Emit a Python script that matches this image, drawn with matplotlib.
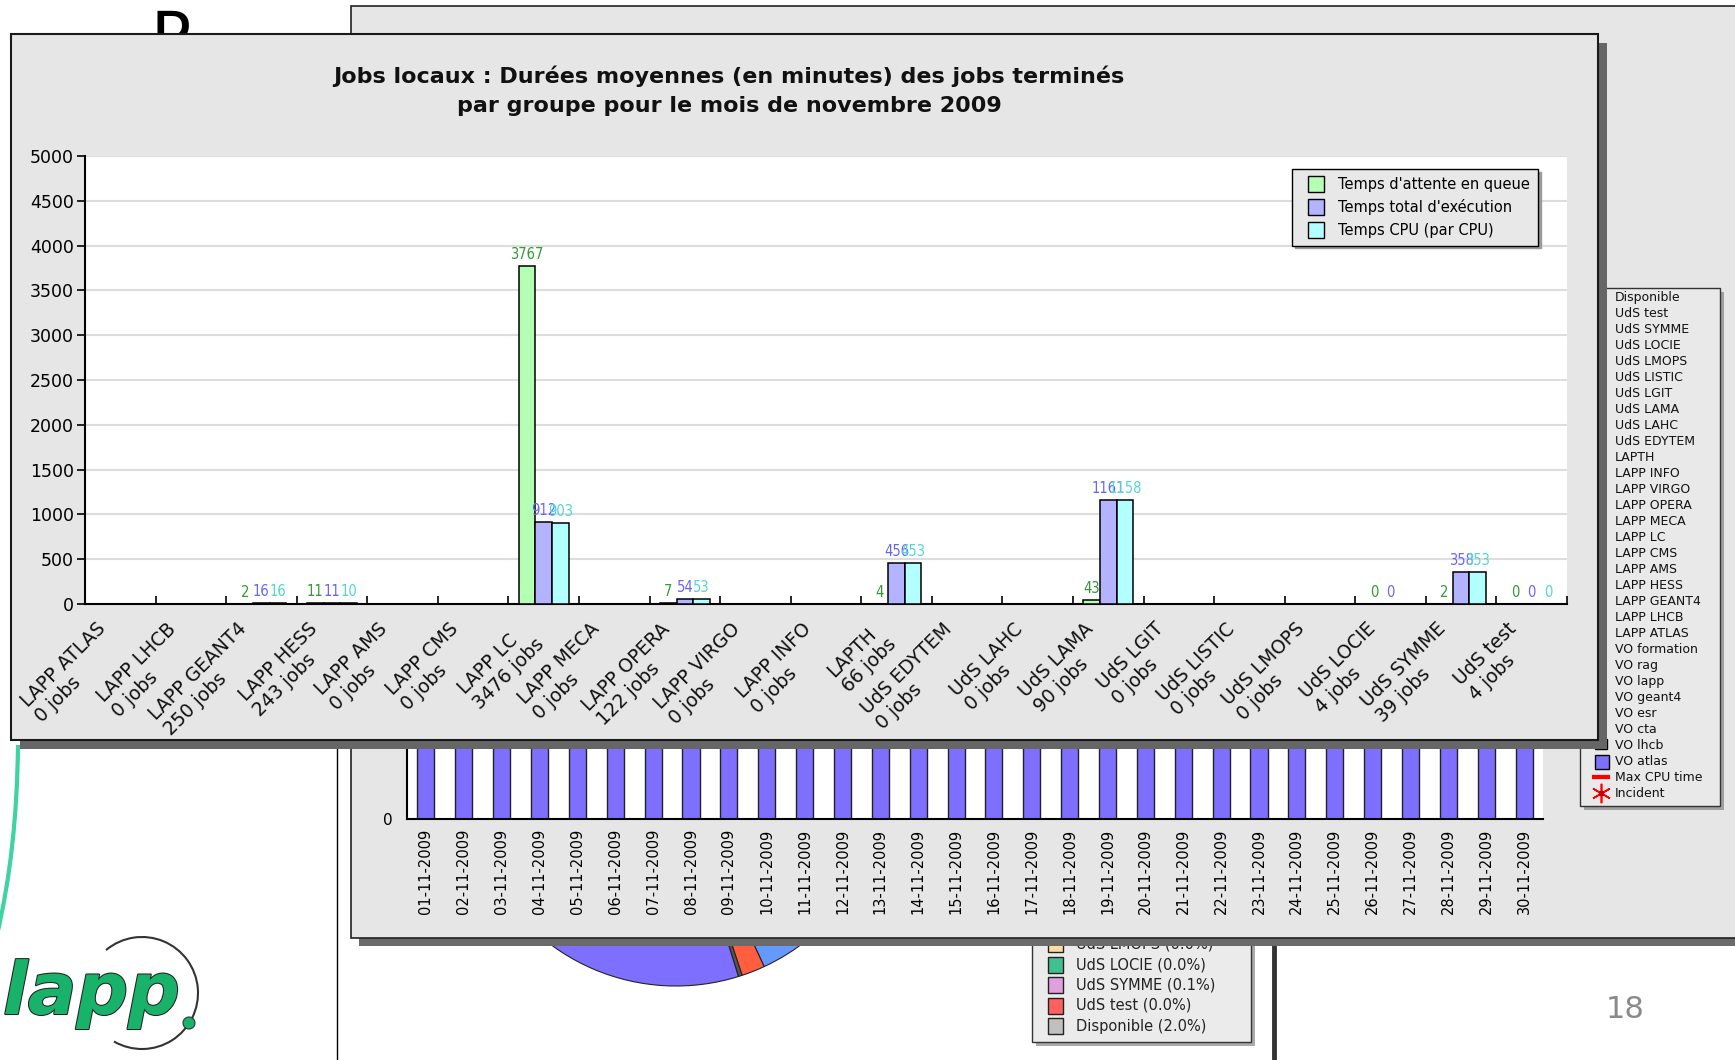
import matplotlib
matplotlib.use('Agg')
import matplotlib.pyplot as plt
from matplotlib.patches import Rectangle, Arc, Circle, PathPatch
from matplotlib.lines import Line2D
from matplotlib.path import Path
from matplotlib import font_manager
import matplotlib.patheffects as pe

W, H = 1735, 1060

# --- graphique principal : durees moyennes par groupe (novembre 2009)
groupes = ['LAPP ATLAS', 'LAPP LHCB', 'LAPP GEANT4', 'LAPP HESS', 'LAPP AMS', 'LAPP CMS',
           'LAPP LC', 'LAPP MECA', 'LAPP OPERA', 'LAPP VIRGO', 'LAPP INFO', 'LAPTH',
           'UdS EDYTEM', 'UdS LAHC', 'UdS LAMA', 'UdS LGIT', 'UdS LISTIC', 'UdS LMOPS',
           'UdS LOCIE', 'UdS SYMME', 'UdS test']
nb_jobs = [0, 0, 250, 243, 0, 0, 3476, 0, 122, 0, 0, 66, 0, 0, 90, 0, 0, 0, 4, 39, 4]
attente = [None, None, 2, 11, None, None, 3767, None, 7, None, None, 4,
           None, None, 43, None, None, None, 0, 2, 0]
execution = [None, None, 16, 11, None, None, 912, None, 54, None, None, 456,
             None, None, 1161, None, None, None, 0, 358, 0]
cpu = [None, None, 16, 10, None, None, 903, None, 53, None, None, 453,
       None, None, 1158, None, None, None, None, 353, 0]
series_noms = ["Temps d'attente en queue", "Temps total d'exécution", "Temps CPU (par CPU)"]
series_couleurs = ['#b3ffb3', '#b3b3ff', '#b3ffff']
series_txt = ['#339933', '#6666ff', '#55d5d5']
y_ticks = [0, 500, 1000, 1500, 2000, 2500, 3000, 3500, 4000, 4500, 5000]

# --- graphique du fond : occupation par jour (seul le bas des barres VO atlas est visible)
jours = ['%02d-11-2009' % d for d in range(1, 31)]
vo_atlas = [71, 68, 74, 66, 70, 72, 69, 75, 73, 67, 70, 64, 71, 76, 68,
            72, 70, 65, 69, 74, 71, 67, 73, 70, 66, 72, 75, 69, 68, 71]
legende_fond = ['Disponible', 'UdS test', 'UdS SYMME', 'UdS LOCIE', 'UdS LMOPS', 'UdS LISTIC',
                'UdS LGIT', 'UdS LAMA', 'UdS LAHC', 'UdS EDYTEM', 'LAPTH', 'LAPP INFO',
                'LAPP VIRGO', 'LAPP OPERA', 'LAPP MECA', 'LAPP LC', 'LAPP CMS', 'LAPP AMS',
                'LAPP HESS', 'LAPP GEANT4', 'LAPP LHCB', 'LAPP ATLAS', 'VO formation', 'VO rag',
                'VO lapp', 'VO geant4', 'VO esr', 'VO cta', 'VO lhcb', 'VO atlas',
                'Max CPU time', 'Incident']

# --- camembert (en partie cache)
camembert = [0.3, 1.8, 8.0, 89.9]
camembert_couleurs = ['#555555', '#ff5f3f', '#6699ff', '#7f6fff']
camembert_legende = ['UdS LMOPS (0.0%)', 'UdS LOCIE (0.0%)', 'UdS SYMME (0.1%)',
                     'UdS test (0.0%)', 'Disponible (2.0%)']
camembert_leg_coul = ['#ffdca0', '#40c090', '#e0a0e0', '#ff6060', '#c0c0c0']

noms_polices = {f.name for f in font_manager.fontManager.ttflist}
etroite = 'Liberation Sans Narrow' if 'Liberation Sans Narrow' in noms_polices else 'DejaVu Sans'


def box(x0, y0, x1, y1):
    return [x0 / W, 1 - y1 / H, (x1 - x0) / W, (y1 - y0) / H]


def canvas(z):
    a = fig.add_axes([0, 0, 1, 1], zorder=z)
    a.set_xlim(0, W)
    a.set_ylim(H, 0)
    a.axis('off')
    a.patch.set_alpha(0)
    return a


fig = plt.figure(figsize=(W / 100, H / 100), dpi=100)
fig.patch.set_facecolor('white')

# ---------- diapo (fond blanc)
ax_s = canvas(0)
ax_s.text(150, 8, 'P', fontsize=48, va='top', ha='left', color='black')
courbe = Path([(18, 745), (17, 850), (-3, 935)], [Path.MOVETO, Path.CURVE3, Path.CURVE3])
ax_s.add_patch(PathPatch(courbe, fill=False, color='#3dd3a3', lw=3))
ax_s.text(3, 1014, 'lapp', fontsize=52, weight='bold', style='italic', color='#19b26b',
          va='baseline', ha='left',
          path_effects=[pe.withStroke(linewidth=1.5, foreground='#222222')])
ax_s.add_patch(Arc((142, 993), 112, 112, theta1=-130, theta2=120, color='#333333', lw=1.5))
ax_s.add_patch(Circle((189, 1023), 6, facecolor='#19b26b', edgecolor='#333333', lw=0.8))
ax_s.text(1625, 1010, '18', color='#8a8a8a', fontsize=22, ha='center', va='center')
ax_s.plot([337, 337], [600, 1060], color='black', lw=1)
ax_s.plot([1274, 1274], [600, 1060], color='#333333', lw=3.5)
ax_s.add_patch(Rectangle((1036, 900), 219, 146, facecolor='#aaaaaa', edgecolor='none'))
ax_s.add_patch(Rectangle((1032, 896), 219, 146, facecolor='#ebebeb', edgecolor='#333333', lw=1))
for k, (nom, c) in enumerate(zip(camembert_legende, camembert_leg_coul)):
    yy = 944 + k * 20.5
    ax_s.add_patch(Rectangle((1048, yy - 8), 15, 16, facecolor=c, edgecolor='#222222', lw=1))
    ax_s.text(1076, yy, nom, fontsize=10.5, va='center', ha='left', color='#222222')

ax_p = fig.add_axes(box(466, 566, 886, 986), zorder=0.5)
ax_p.pie(camembert, colors=camembert_couleurs, startangle=-72.7, counterclock=True,
         wedgeprops=dict(edgecolor='#222222', linewidth=0.8))
ax_p.set_xlim(-1, 1)
ax_p.set_ylim(-1, 1)

# ---------- fenetre du fond
ax_b = canvas(1)
ax_b.add_patch(Rectangle((359, 14), 1400, 932, facecolor='#6a6a6a', edgecolor='none'))
ax_b.add_patch(Rectangle((351, 6), 1400, 932, facecolor='#e6e6e6', edgecolor='#222222', lw=1.2))
ax_b.add_patch(Rectangle((1584, 292), 140, 518, facecolor='#a0a0a0', edgecolor='none'))
ax_b.add_patch(Rectangle((1580, 288), 140, 518, facecolor='#e9e9e9', edgecolor='#333333', lw=1))
for k, nom in enumerate(legende_fond):
    ax_b.text(1615, 298 + k * 15.97, nom, fontsize=9, va='center', ha='left', color='#111111')
ax_b.add_patch(Rectangle((1595, 739), 12, 10, facecolor='#ff77dd', edgecolor='black', lw=1))
ax_b.add_patch(Rectangle((1595, 755), 14, 14, facecolor='#7f6fff', edgecolor='black', lw=1))
ax_b.plot([1594, 1608], [777, 777], color='red', lw=3)
ax_b.plot([1601], [793], marker=(6, 2, 0), ms=14, color='red', mew=1.2)
ax_b.plot([1601], [793], marker='o', ms=3, color='#cc0000')

ax_d = fig.add_axes(box(407, 40, 1543, 819), zorder=1.5)
ax_d.bar(range(len(jours)), vo_atlas, width=0.45, color='#7f6fff', edgecolor='#222222', lw=1)
ax_d.set_xlim(-0.5, len(jours) - 0.5)
ax_d.set_ylim(0, 100)
ax_d.set_yticks([0])
ax_d.set_xticks(range(len(jours)))
ax_d.set_xticklabels(jours, rotation=90, fontsize=10.5)
ax_d.tick_params(axis='x', length=0, pad=7)
ax_d.tick_params(axis='y', length=0, labelsize=11, pad=10)
for s in ['top', 'right']:
    ax_d.spines[s].set_visible(False)
for s in ['left', 'bottom']:
    ax_d.spines[s].set_color('black')
    ax_d.spines[s].set_linewidth(1.5)

# ---------- fenetre de devant
ax_f = canvas(2)
ax_f.add_patch(Rectangle((20, 43), 1587, 706, facecolor='#666666', edgecolor='none'))
ax_f.add_patch(Rectangle((11, 34), 1587, 706, facecolor='#e6e6e6', edgecolor='#1a1a1a', lw=1.5))
ax_f.text(729, 76, 'Jobs locaux : Durées moyennes (en minutes) des jobs terminés',
          ha='center', va='center', fontsize=16, weight='bold', color='#111111')
ax_f.text(729, 106, 'par groupe pour le mois de novembre 2009',
          ha='center', va='center', fontsize=16, weight='bold', color='#111111')

ax = fig.add_axes(box(85, 156, 1567, 604), zorder=3)
ax.set_facecolor('white')
bw = 0.235
for s, (vals, c, ct) in enumerate(zip([attente, execution, cpu], series_couleurs, series_txt)):
    for i, v in enumerate(vals):
        if v is None:
            continue
        x = i + 0.5 + (s - 1) * bw
        ax.bar(x, v, width=bw, color=c, edgecolor='black', lw=1.1, zorder=3)
        ax.text(x, v + 45, str(v), ha='center', va='bottom', color=ct, fontsize=10.5,
                family=etroite, fontstretch='condensed', zorder=4)

ax.set_xlim(0, len(groupes))
ax.set_ylim(0, 5000)
ax.set_yticks(y_ticks)
ax.set_xticks(range(len(groupes) + 1))
ax.set_xticklabels([])
ax.tick_params(axis='y', direction='out', length=6, width=1.2, labelsize=12.5, pad=2)
ax.tick_params(axis='x', direction='in', length=6, width=1.2)
ax.yaxis.grid(True, color='#dddddd', lw=1.5, zorder=0)
ax.set_axisbelow(True)
for s in ['top', 'right']:
    ax.spines[s].set_visible(False)
for s in ['left', 'bottom']:
    ax.spines[s].set_linewidth(1.5)
# etiquettes sur deux lignes, alignees a gauche, inclinees a 45 degres
for i, (g, n) in enumerate(zip(groupes, nb_jobs)):
    ax.text(i + 0.15, -0.034, '%s\n%d jobs' % (g, n), transform=ax.get_xaxis_transform(),
            rotation=45, rotation_mode='anchor', ha='right', va='top',
            multialignment='left', fontsize=13.5, linespacing=1.15, color='#111111')

poignees = [Line2D([], [], ls='none', marker='s', ms=11, markerfacecolor=c,
                   markeredgecolor='black', markeredgewidth=1) for c in series_couleurs]
ax.legend(poignees, series_noms, loc='upper left', bbox_to_anchor=(1292 / W, 1 - 169 / H),
          bbox_transform=fig.transFigure, fancybox=False, edgecolor='black',
          facecolor='#e8e8e8', framealpha=1, shadow={'color': '#9a9a9a', 'alpha': 1},
          fontsize=10.5, handlelength=2.2, handletextpad=0.4,
          labelspacing=0.5, borderpad=0.55, borderaxespad=0)

fig.savefig('out.png', dpi=100)
